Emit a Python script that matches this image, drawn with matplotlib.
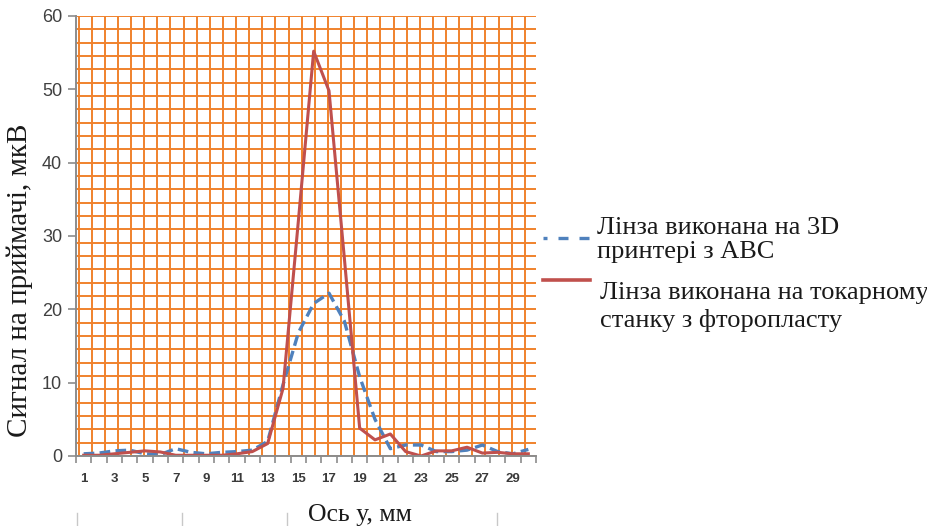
import numpy as np
import matplotlib
matplotlib.use('Agg')
import matplotlib.pyplot as plt
from matplotlib.lines import Line2D

# значення (категорії 1..30)
positions = list(range(1, 31))
abs_3d = [0.3, 0.4, 0.7, 0.8, 0.3, 0.2, 1.0, 0.5, 0.3, 0.5,
          0.6, 0.8, 2.0, 9.7, 16.8, 20.8, 22.2, 18.4, 10.8, 5.0,
          1.0, 1.5, 1.5, 0.6, 0.6, 0.8, 1.5, 0.6, 0.3, 0.9]
ftoroplast = [0.1, 0.1, 0.3, 0.5, 0.7, 0.55, 0.1, 0.1, 0.1, 0.1,
              0.3, 0.6, 1.7, 9.2, 32.0, 55.2, 49.8, 27.0, 3.8, 2.2,
              3.0, 0.6, 0.0, 0.7, 0.7, 1.2, 0.4, 0.5, 0.3, 0.3]

label_abs = "Лінза виконана на 3D\nпринтері з АВС"
label_ftor = "Лінза виконана на токарному\nстанку з фторопласту"
x_tick_labels = [str(i) for i in range(1, 30, 2)]
y_ticks = [0, 10, 20, 30, 40, 50, 60]

W, H = 928, 526
SERIF = 'Liberation Serif'
SANS = 'Liberation Sans'
BLUE = '#4F81BD'
RED = '#C0504D'
GRID = '#F0822C'
AXIS = '#8C8C8C'


def main():
    fig = plt.figure(figsize=(W / 100, H / 100), dpi=100)
    ax = fig.add_axes([76 / W, 1 - 456 / H, 460 / W, 440 / H])
    ax.set_xlim(0.5, 30.5)
    ax.set_ylim(0, 60)

    # фон ділянки - візерунок "сітка" (не прив'язаний до даних)
    for gx in np.linspace(0.67, 29.77, 35):
        ax.axvline(gx, color=GRID, lw=1.4, zorder=1)
    for gy in np.linspace(0, 60, 34):
        ax.axhline(gy, color=GRID, lw=1.4, zorder=1)

    ax.plot(positions, abs_3d, color=BLUE, lw=2.4,
            linestyle=(0, (3.2, 1.6)), zorder=3)
    ax.plot(positions, ftoroplast, color=RED, lw=2.2, zorder=4)

    for side in ['top', 'right']:
        ax.spines[side].set_visible(False)
    for side in ['left', 'bottom']:
        ax.spines[side].set_color(AXIS)
        ax.spines[side].set_linewidth(1.4)
        ax.spines[side].set_zorder(5)

    ax.set_xticks(np.arange(0.5, 31, 1))
    ax.set_xticklabels([])
    ax.set_xticks(range(1, 30, 2), minor=True)
    ax.set_xticklabels(x_tick_labels, minor=True, fontfamily=SANS,
                       fontweight='bold')
    ax.tick_params(axis='x', which='major', length=5, width=1.2,
                   color=AXIS, direction='out')
    ax.tick_params(axis='x', which='minor', length=0, pad=12,
                   labelsize=9.5, labelcolor='#3A3A3A')

    ax.set_yticks(y_ticks)
    ax.set_yticklabels([str(v) for v in y_ticks], fontfamily=SANS)
    ax.tick_params(axis='y', length=6, width=1.2, color=AXIS, pad=4,
                   labelsize=13, labelcolor='#404040')

    ax.set_ylabel("Сигнал на приймачі, мкВ", fontfamily=SERIF,
                  fontsize=21, color='#1A1A1A')
    ax.yaxis.set_label_coords(-0.094, 0.40)
    ax.set_xlabel("Ось у, мм", fontfamily=SERIF, fontsize=18.5,
                  color='#1A1A1A')
    ax.xaxis.set_label_coords(0.617, -0.108)

    # легенда праворуч
    fig.add_artist(Line2D([543 / W, 590 / W], [1 - 238 / H, 1 - 238 / H],
                          color=BLUE, lw=2.4, linestyle=(1.8, (3.0, 3.3))))
    fig.add_artist(Line2D([543 / W, 590 / W], [1 - 280 / H, 1 - 280 / H],
                          color=RED, lw=2.6))
    fig.text(597 / W, 1 - 258 / H, label_abs, fontfamily=SERIF,
             fontsize=19, va='baseline', ha='left', linespacing=1.1,
             color='#1A1A1A')
    fig.text(600 / W, 1 - 327 / H, label_ftor, fontfamily=SERIF,
             fontsize=19, va='baseline', ha='left', linespacing=1.25,
             color='#1A1A1A')

    # короткі сірі риски внизу
    for lx in [77, 182, 287, 497]:
        fig.add_artist(Line2D([lx / W, lx / W], [0, 13 / H],
                              color='#C8C8C8', lw=1.0))

    fig.savefig('out.png', dpi=100)


if __name__ == '__main__':
    main()
